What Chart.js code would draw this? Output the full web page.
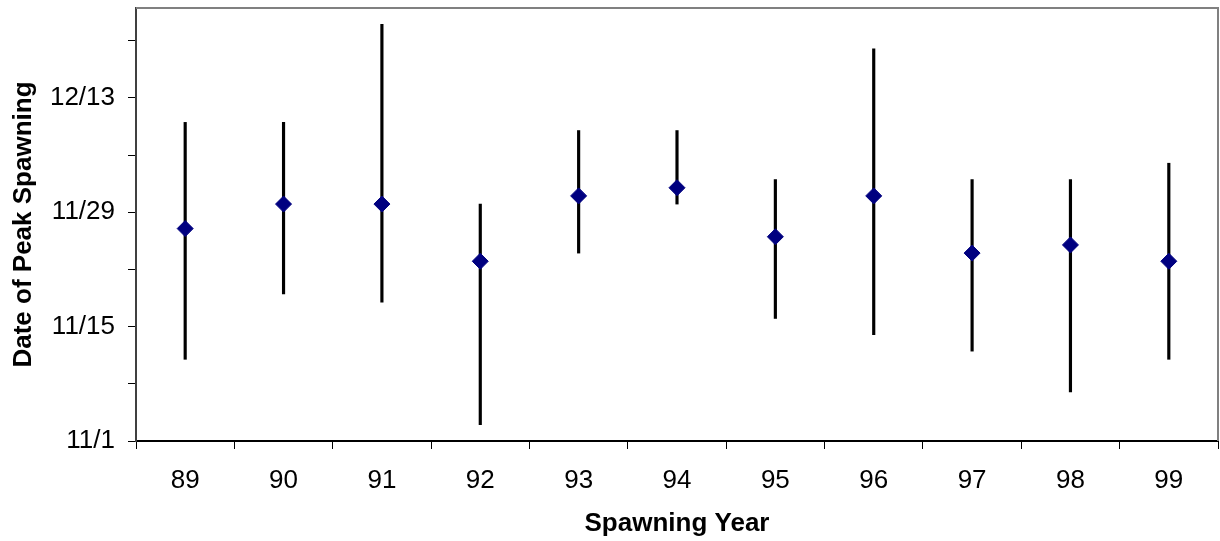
<!DOCTYPE html>
<html><head><meta charset="utf-8">
<script src="https://cdn.jsdelivr.net/npm/chart.js@4.4.0/dist/chart.umd.min.js"></script>
<style>html,body{margin:0;padding:0;background:#fff;} #wrap{width:1220px;height:541px;position:relative;}</style>
</head><body><div id="wrap"><canvas id="c" width="1220" height="541"></canvas></div>
<script>
const years = ['89','90','91','92','93','94','95','96','97','98','99'];
const peakDates     = ['11/27','11/30','11/30','11/23','12/1','12/2','11/26','12/1','11/24','11/25','11/23'];
const earliestDates = ['11/11','11/19','11/18','11/3','11/24','11/30','11/16','11/14','11/12','11/7','11/11'];
const latestDates   = ['12/10','12/10','12/22','11/30','12/9','12/9','12/3','12/19','12/3','12/3','12/5'];
const yTickLabels = ['11/1','11/15','11/29','12/13'];
const yAxisStart = '11/1';
const yAxisEnd = '12/24';
const yMinorStepDays = 7;

function dayNum(s){ const [m,d] = s.split('/').map(Number); return (m === 12 ? 30 : 0) + d - 1; }
const yTickValues = yTickLabels.map(dayNum);

const FONT = "'Liberation Sans', Arial, sans-serif";

const frame = {
  id: 'frame',
  afterDraw(chart){
    const {ctx, chartArea:a} = chart;
    ctx.save();
    ctx.strokeStyle = '#808080';
    ctx.lineWidth = 2;
    ctx.beginPath();
    ctx.moveTo(a.left, a.top);
    ctx.lineTo(a.right, a.top);
    ctx.lineTo(a.right, a.bottom);
    ctx.stroke();
    ctx.restore();
  }
};

new Chart(document.getElementById('c'), {
  type: 'bar',
  data: {
    labels: years,
    datasets: [
      {
        type: 'line',
        label: 'Peak',
        data: peakDates.map(dayNum),
        showLine: false,
        pointStyle: 'rectRot',
        pointRadius: 8,
        pointBackgroundColor: '#000080',
        pointBorderColor: '#000080',
        pointBorderWidth: 1,
        order: 0
      },
      {
        type: 'bar',
        label: 'Range',
        data: earliestDates.map((e,i) => [dayNum(e), dayNum(latestDates[i])]),
        backgroundColor: '#000',
        borderWidth: 0,
        barThickness: 2.5,
        order: 1
      }
    ]
  },
  options: {
    responsive: false,
    animation: false,
    devicePixelRatio: 1,
    layout: { autoPadding: false, padding: { top: 8, right: 2, left: 0, bottom: 0 } },
    plugins: { legend: { display: false }, tooltip: { enabled: false } },
    scales: {
      x: {
        offset: true,
        grid: { offset: true, drawOnChartArea: false, drawTicks: true, tickLength: 8, color: '#000', lineWidth: 1 },
        border: { display: true, color: '#000', width: 2 },
        ticks: { color: '#000', font: { family: FONT, size: 26 }, padding: 16, maxRotation: 0 },
        title: { display: true, text: 'Spawning Year', color: '#000', font: { family: FONT, size: 26, weight: 'bold' }, padding: { top: 0, bottom: 2 } },
        afterFit(s){ s.height = 100; s.paddingLeft = 0; s.paddingRight = 0; }
      },
      y: {
        min: dayNum(yAxisStart),
        max: dayNum(yAxisEnd),
        grid: { drawOnChartArea: false, drawTicks: true, tickLength: 8, color: '#000', lineWidth: 1 },
        border: { display: true, color: '#404040', width: 2 },
        afterBuildTicks(s){ s.ticks = s.ticks.filter(t => t.value % yMinorStepDays === 0); },
        ticks: {
          stepSize: yMinorStepDays,
          color: '#000',
          font: { family: FONT, size: 26 },
          padding: 13,
          callback(v){ const i = yTickValues.indexOf(v); return i >= 0 ? yTickLabels[i] : ''; }
        },
        title: { display: true, text: 'Date of Peak Spawning', color: '#000', font: { family: FONT, size: 26, weight: 'bold' }, padding: { top: 8, bottom: 0 } },
        afterFit(s){ s.width = 136; s.paddingTop = 0; s.paddingBottom = 0; s.paddingLeft = 0; s.paddingRight = 0; }
      }
    }
  },
  plugins: [frame]
});
</script>
</body></html>
